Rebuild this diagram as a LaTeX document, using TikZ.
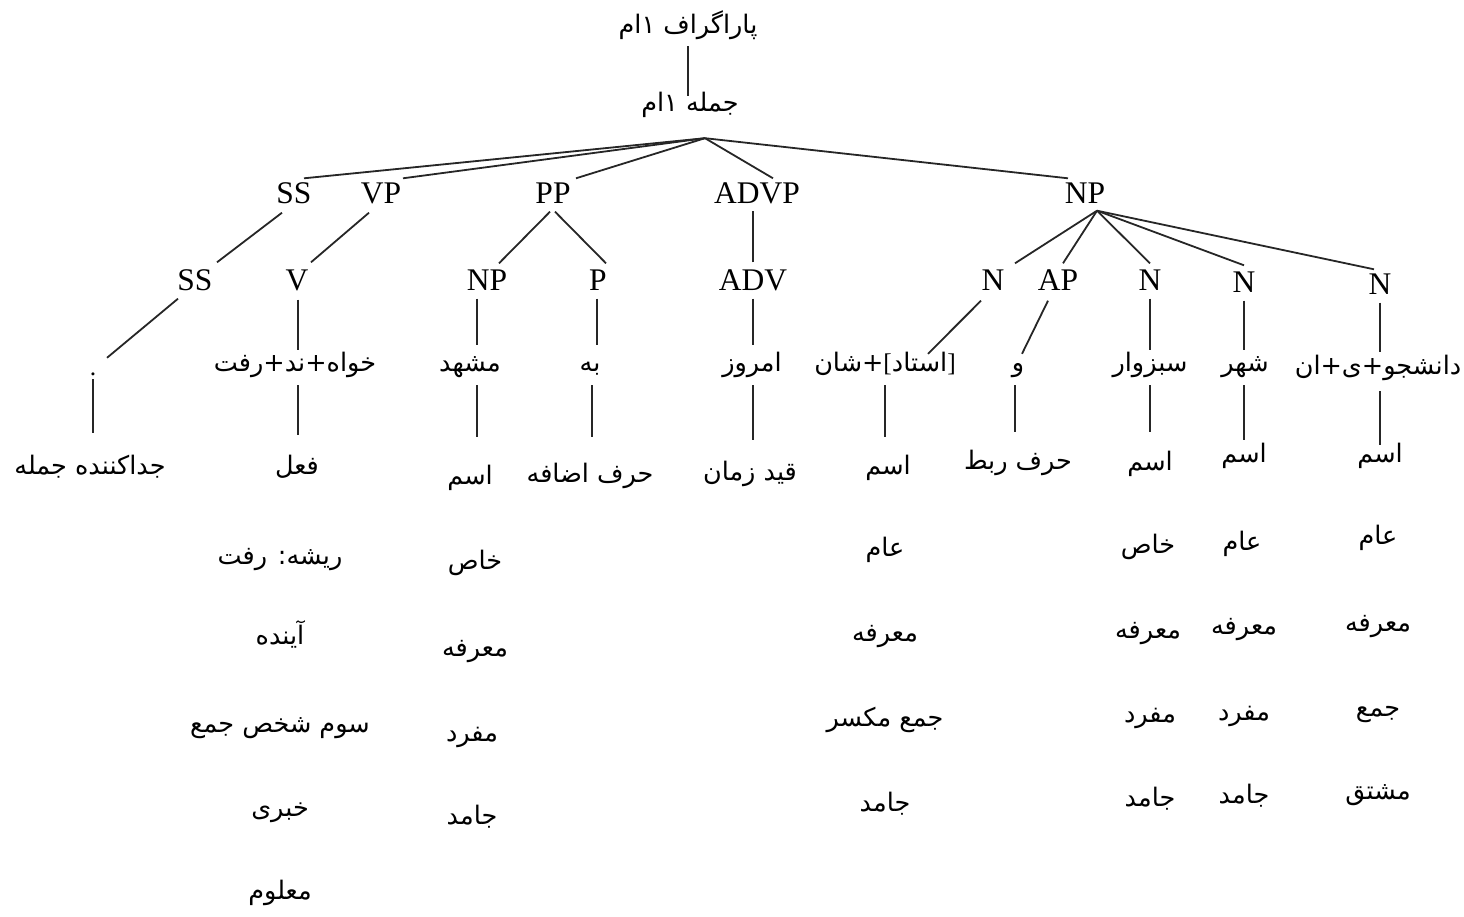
\documentclass[tikz,border=0pt]{standalone}
\usepackage{fontspec}
\setmainfont{Liberation Serif}
\newfontfamily\arabicfont[Script=Arabic]{DejaVu Sans}
\TeXXeTstate=1
\newcommand{\FaTxt}[1]{{\arabicfont\beginR #1\endR}}
\newcommand{\vlink}[5]{\draw[edge,shorten <=#3,shorten >=#4] ([xshift=#5]#1.south) -- ([xshift=#5]#1.south |- #2.north);}
\tikzset{
  lat/.style={font=\fontsize{31.5}{36}\selectfont, inner sep=4pt, text height=21pt, text depth=0pt},
  ar/.style={font=\fontsize{25.5}{30}\selectfont, inner sep=4pt, text height=16pt, text depth=8pt},
  edge/.style={line width=1.8pt, black!85}
}
\begin{document}
\begin{tikzpicture}[x=1pt,y=-1pt]
\useasboundingbox (0,0) rectangle (1464,917);
% top
\node[ar] (p) at (688,30) {\FaTxt{پاراگراف ۱ام}};
\node[ar] (j) at (690,108) {\FaTxt{جمله ۱ام}};
\vlink{p}{j}{0pt}{-4pt}{0pt}
% level 1
\node[lat] (ss1) at (294,193) {SS};
\node[lat] (vp) at (381,193) {VP};
\node[lat] (pp) at (553,193) {PP};
\node[lat] (advp) at (757,193) {ADVP};
\node[lat] (np1) at (1085,193) {NP};
\coordinate (japex) at ([xshift=15pt,yshift=-14pt]j.south);
\draw[edge] (japex) -- ([xshift=10pt]ss1.north);
\draw[edge] (japex) -- ([xshift=22pt]vp.north);
\draw[edge] (japex) -- ([xshift=23pt]pp.north);
\draw[edge] (japex) -- ([xshift=16pt]advp.north);
\draw[edge] (japex) -- ([xshift=-17pt]np1.north);
% level 2
\node[lat] (ss2) at (195,280) {SS};
\node[lat] (v) at (297,280) {V};
\node[lat] (np2) at (487,280) {NP};
\node[lat] (pprep) at (598,280) {P};
\node[lat] (adv) at (753,280) {ADV};
\node[lat] (n1) at (993,280) {N};
\node[lat] (ap) at (1058,280) {AP};
\node[lat] (n2) at (1150,280) {N};
\node[lat] (n3) at (1244,282) {N};
\node[lat] (n4) at (1380,284) {N};
\draw[edge] ([xshift=-12pt,yshift=-5pt]ss1.south) -- ([xshift=22pt,yshift=3pt]ss2.north);
\draw[edge] ([xshift=-12pt,yshift=-5pt]vp.south) -- ([xshift=14pt,yshift=3pt]v.north);
\draw[edge] ([xshift=-3pt,yshift=-4pt]pp.south) -- ([xshift=12pt,yshift=2pt]np2.north);
\draw[edge] ([xshift=2pt,yshift=-4pt]pp.south) -- ([xshift=8pt,yshift=2pt]pprep.north);
\draw[edge,shorten <=3pt,shorten >=3pt] (adv.north) -- (adv.north |- advp.south);
\coordinate (npapex) at ([xshift=12pt,yshift=-3pt]np1.south);
\draw[edge] (npapex) -- ([xshift=22pt,yshift=2pt]n1.north);
\draw[edge] (npapex) -- ([xshift=5pt,yshift=2pt]ap.north);
\draw[edge] (npapex) -- ([yshift=2pt]n2.north);
\draw[edge] (npapex) -- ([yshift=2pt]n3.north);
\draw[edge] (npapex) -- ([xshift=-6pt]n4.north);
% level 3
\node[ar] (dot) at (93,371) {.};
\node[ar] (khah) at (295,367) {\FaTxt{خواه+ند+رفت}};
\node[ar] (mashhad) at (470,367) {\FaTxt{مشهد}};
\node[ar] (be) at (590,367) {\FaTxt{به}};
\node[ar] (emruz) at (752,367) {\FaTxt{امروز}};
\node[ar] (ostad) at (885,367) {\FaTxt{شان}{\arabicfont +}[\FaTxt{استاد}]};
\node[ar] (va) at (1018,367) {\FaTxt{و}};
\node[ar] (sabz) at (1150,367) {\FaTxt{سبزوار}};
\node[ar] (shahr) at (1245,367) {\FaTxt{شهر}};
\node[ar] (dansh) at (1378,370) {\FaTxt{دانشجو+ی+ان}};
\draw[edge] ([xshift=-17pt,yshift=-4pt]ss2.south) -- ([xshift=14pt,yshift=-3pt]dot.north);
\vlink{v}{khah}{5pt}{1pt}{1pt}
\vlink{np2}{mashhad}{4pt}{6pt}{-10pt}
\vlink{pprep}{be}{4pt}{6pt}{-1pt}
\vlink{adv}{emruz}{4pt}{6pt}{0pt}
\draw[edge] ([xshift=-12pt,yshift=-6pt]n1.south) -- ([xshift=43pt,yshift=-3pt]ostad.north);
\draw[edge] ([xshift=-10pt,yshift=-6pt]ap.south) -- ([xshift=4pt,yshift=-3pt]va.north);
\vlink{n2}{sabz}{4pt}{1pt}{0pt}
\vlink{n3}{shahr}{4pt}{1pt}{0pt}
\vlink{n4}{dansh}{4pt}{2pt}{0pt}
% level 4
\node[ar] (jodakon) at (90,470) {\FaTxt{جداکننده جمله}};
\node[ar] (fel) at (297,470) {\FaTxt{فعل}};
\node[ar] (esm1) at (470,480) {\FaTxt{اسم}};
\node[ar] (harfez) at (590,478) {\FaTxt{حرف اضافه}};
\node[ar] (ghid) at (750,476) {\FaTxt{قید زمان}};
\node[ar] (esm2) at (888,470) {\FaTxt{اسم}};
\node[ar] (harfrabt) at (1018,465) {\FaTxt{حرف ربط}};
\node[ar] (esm3) at (1150,466) {\FaTxt{اسم}};
\node[ar] (esm4) at (1244,458) {\FaTxt{اسم}};
\node[ar] (esm5) at (1380,458) {\FaTxt{اسم}};
\draw[edge,shorten <=-8pt,shorten >=21pt] (dot.south) -- (dot.south |- jodakon.north);
\vlink{khah}{fel}{2pt}{19pt}{3pt}
\vlink{mashhad}{esm1}{2pt}{27pt}{7pt}
\vlink{be}{harfez}{2pt}{25pt}{2pt}
\vlink{emruz}{ghid}{2pt}{20pt}{1pt}
\vlink{ostad}{esm2}{2pt}{17pt}{0pt}
\vlink{va}{harfrabt}{2pt}{17pt}{-3pt}
\vlink{sabz}{esm3}{2pt}{18pt}{0pt}
\vlink{shahr}{esm4}{2pt}{2pt}{-1pt}
\vlink{dansh}{esm5}{5pt}{-3pt}{2pt}
% feature lists: verb
\node[ar] (f1) at (280,560) {\FaTxt{ریشه: رفت}};
\node[ar] (f2) at (280,640) {\FaTxt{آینده}};
\node[ar] (f3) at (280,728) {\FaTxt{سوم شخص جمع}};
\node[ar] (f4) at (280,812) {\FaTxt{خبری}};
\node[ar] (f5) at (280,895) {\FaTxt{معلوم}};
% mashhad
\node[ar] (m1) at (475,565) {\FaTxt{خاص}};
\node[ar] (m2) at (475,652) {\FaTxt{معرفه}};
\node[ar] (m3) at (472,737) {\FaTxt{مفرد}};
\node[ar] (m4) at (472,820) {\FaTxt{جامد}};
% ostad
\node[ar] (o1) at (885,552) {\FaTxt{عام}};
\node[ar] (o2) at (885,637) {\FaTxt{معرفه}};
\node[ar] (o3) at (885,722) {\FaTxt{جمع مکسر}};
\node[ar] (o4) at (885,807) {\FaTxt{جامد}};
% sabzevar
\node[ar] (s1) at (1148,549) {\FaTxt{خاص}};
\node[ar] (s2) at (1148,634) {\FaTxt{معرفه}};
\node[ar] (s3) at (1150,718) {\FaTxt{مفرد}};
\node[ar] (s4) at (1150,802) {\FaTxt{جامد}};
% shahr
\node[ar] (h1) at (1242,546) {\FaTxt{عام}};
\node[ar] (h2) at (1244,630) {\FaTxt{معرفه}};
\node[ar] (h3) at (1244,716) {\FaTxt{مفرد}};
\node[ar] (h4) at (1244,799) {\FaTxt{جامد}};
% daneshju
\node[ar] (d1) at (1378,540) {\FaTxt{عام}};
\node[ar] (d2) at (1378,627) {\FaTxt{معرفه}};
\node[ar] (d3) at (1378,712) {\FaTxt{جمع}};
\node[ar] (d4) at (1378,795) {\FaTxt{مشتق}};
\end{tikzpicture}
\end{document}
